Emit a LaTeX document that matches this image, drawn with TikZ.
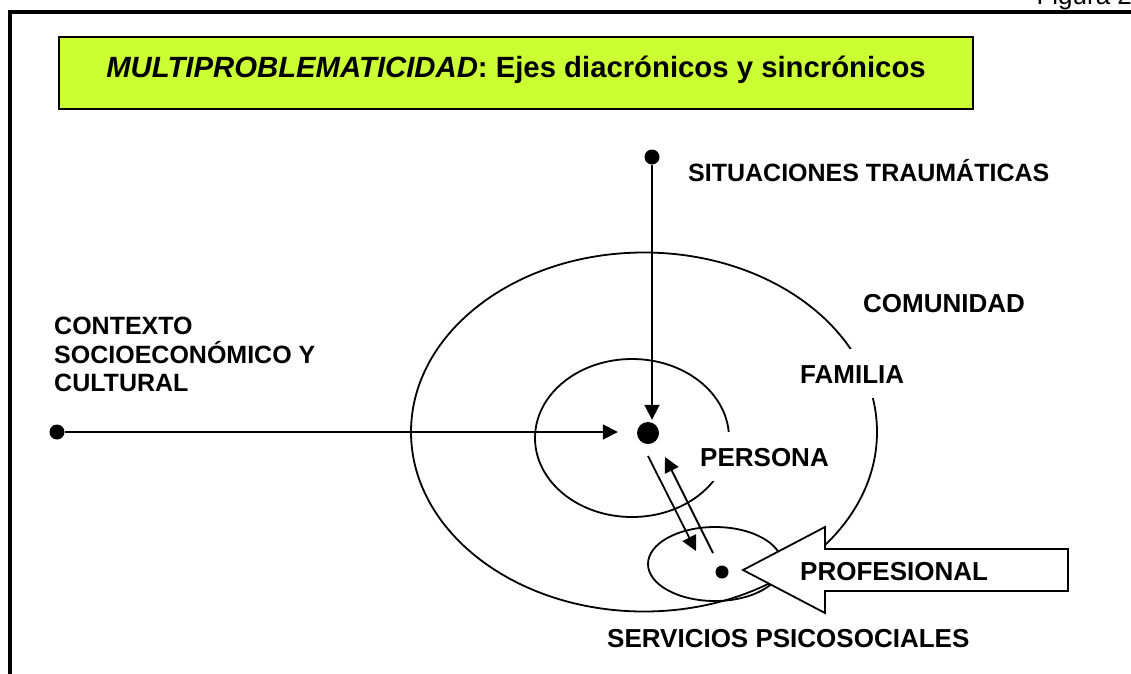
\documentclass[tikz,border=0pt]{standalone}
\usepackage{fontspec}
\setmainfont{Liberation Sans}
\usepackage{tikz}
\usetikzlibrary{arrows.meta,calc}
\definecolor{verdelima}{RGB}{204,255,51}

\begin{document}
\begin{tikzpicture}[x=1pt,y=-1pt,
  linea/.style={line width=1.8pt},
  flecha/.style={line width=1.8pt,-{Triangle[length=15pt,width=15pt]}},
  punto/.style={circle,fill=black,inner sep=0pt,minimum size=#1},
  etiqueta/.style={anchor=base west,fill=white,inner xsep=2pt,inner ysep=15pt,
    text height=19pt,text depth=0pt,font=\bfseries\fontsize{26}{30}\selectfont},
  titulo/.style={draw,line width=2pt,fill=verdelima,anchor=north west,inner sep=0pt,
    minimum width=914pt,text height=40pt,text depth=32pt,font=\bfseries\fontsize{29.3}{34}\selectfont}]
\useasboundingbox (0,0) rectangle (1131,673);
\draw[line width=3.2pt] (10,12) rectangle (1200,720);
\node[anchor=base west,font=\fontsize{26}{30}\selectfont] (figura) at (1033,4.5) {Figura 2};
\node[titulo] (title) at (58,36) {\textit{MULTIPROBLEMATICIDAD}: Ejes diacrónicos y sincrónicos};
\draw[linea] (644,432) ellipse (233pt and 179.5pt);
\draw[linea] (632,438) ellipse (97pt and 79pt);
\draw[linea] (715,564) ellipse (67pt and 37pt);
\node[etiqueta,font=\bfseries\fontsize{25}{30}\selectfont] (situaciones) at (686,181) {SITUACIONES TRAUMÁTICAS};
\node[etiqueta] (comunidad) at (861,312) {COMUNIDAD};
\node[etiqueta] (familia) at (798,383) {FAMILIA};
\node[etiqueta] (persona) at (698,466) {PERSONA};
\node[etiqueta] (servicios) at (605,647) {SERVICIOS PSICOSOCIALES};
\node[anchor=north west,inner sep=0pt,align=left,font=\bfseries\fontsize{25}{28.5}\selectfont] (contexto) at (54,317) {CONTEXTO\\SOCIOECONÓMICO Y\\CULTURAL};
\draw[linea,fill=white] (743,570)--(825,527)--(825,549)--(1068,549)--(1068,591)--(825,591)--(825,613)--cycle;
\node[etiqueta,fill=none] (profesional) at (798,580) {PROFESIONAL};
\node[punto=22pt] (pdot) at (648,433) {};
\node[punto=13pt] (sdot) at (722,572) {};
\node[punto=15pt] (tdot) at (652,157) {};
\node[punto=15pt] (cdot) at (57,432) {};
\coordinate (bajaA) at (648,456); \coordinate (bajaB) at (696,551);
\coordinate (subeA) at (713,553); \coordinate (subeB) at (665,457);
\draw[flecha,shorten >=2pt] (tdot) -- (tdot |- pdot.north);
\draw[flecha,shorten >=19pt] (cdot) -- (cdot -| pdot.west);
\draw[flecha] (bajaA) -- (bajaB);
\draw[flecha] (subeA) -- (subeB);
\end{tikzpicture}
\end{document}
